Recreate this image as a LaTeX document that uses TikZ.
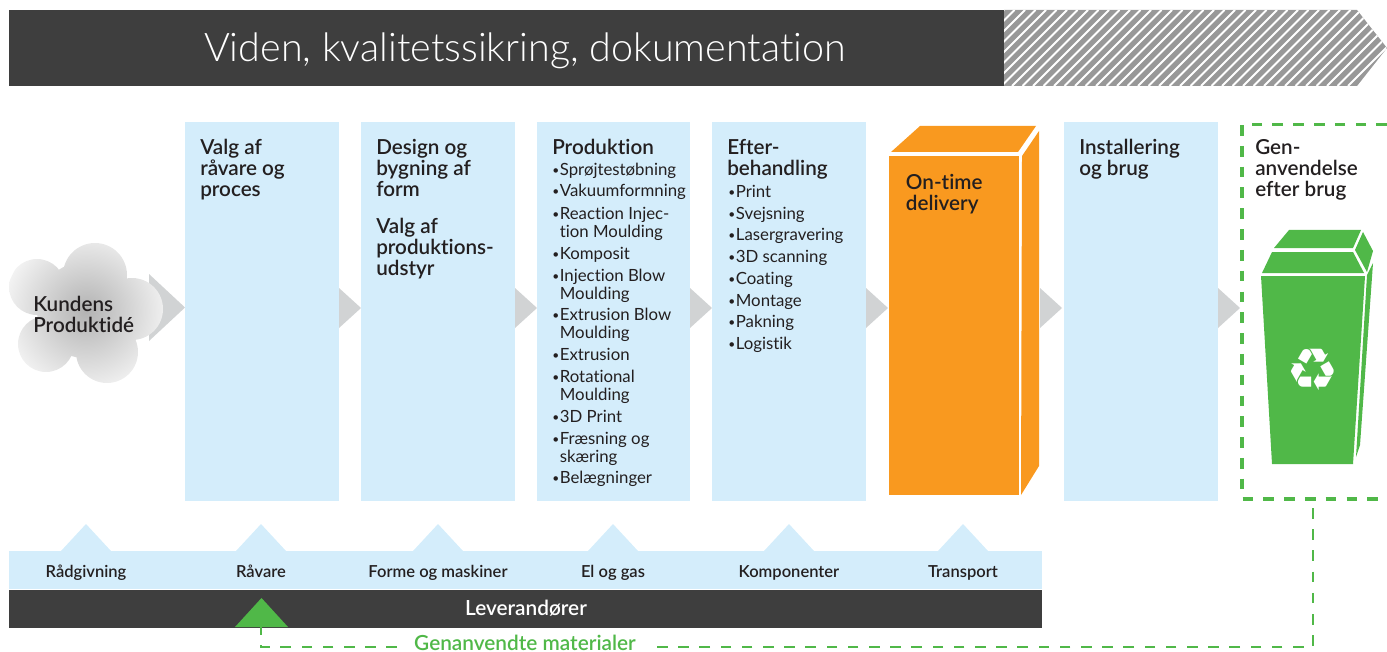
\documentclass[tikz,border=0pt]{standalone}
\usepackage{fontspec}
\defaultfontfeatures{Ligatures=NoCommon}
\setmainfont{Lato}
\newfontfamily\headfont{Lato Semibold}
\newfontfamily\titlefont{Lato Light}
\newfontfamily\symfont{DejaVu Sans}
\usetikzlibrary{positioning,calc}
\definecolor{colorDark}{HTML}{3E3E3E}
\definecolor{colorPale}{HTML}{D4EDFB}
\definecolor{colorOrange}{HTML}{F9991F}
\definecolor{colorGreen}{HTML}{50B848}
\definecolor{colorChev}{HTML}{D1D3D4}
\definecolor{colorHatch}{HTML}{989898}
\definecolor{colorInk}{HTML}{231F20}
\tikzset{
   column/.style={fill=colorPale,minimum width=115.5pt,minimum height=284.25pt,inner sep=0pt,anchor=north west},
   headtxt/.style={font=\headfont\fontsize{15.5}{15.75}\selectfont,text=colorInk,align=left,inner sep=0pt,anchor=north west},
   listtxt/.style={font=\fontsize{12.6}{13.5}\selectfont,text=colorInk,inner sep=0pt,anchor=north west},
   chev/.style={fill=colorChev},
   peak/.style={fill=colorPale},
   supply/.style={font=\headfont\fontsize{12.4}{13}\selectfont,text=colorInk,inner sep=0pt,anchor=base},
   genline/.style={draw=colorGreen,line width=2.3pt,dash pattern=on 8pt off 7.6pt},
   backline/.style={draw=colorGreen,line width=2.2pt,dash pattern=on 8pt off 7.9pt},
   cubeside/.style={fill=colorOrange},
   binpart/.style={fill=colorGreen},
}
\newcommand{\pitem}[1]{\strut\makebox[5.7pt][l]{\raisebox{0.4pt}{\fontsize{9}{9}\selectfont\textbullet}}\parbox[t]{98pt}{#1}}
\begin{document}
\begin{tikzpicture}[x=0.75pt,y=-0.75pt]
  \useasboundingbox (0,0) rectangle (1387,652);

  % top band
  \fill[colorHatch] (1004,10) -- (1357,10) -- (1387,48) -- (1357,86) -- (1004,86) -- cycle;
  \begin{scope}
    \clip (1004,10) -- (1357,10) -- (1387,48) -- (1357,86) -- (1004,86) -- cycle;
    \foreach \i in {0,...,45}
      \draw[white,line width=1.5pt] (1004+\i*10.5-76,86) -- (1004+\i*10.5,10);
  \end{scope}
  \node (band) at (9,10) [fill=colorDark,minimum width=746.25pt,minimum height=57pt,inner sep=0pt,anchor=north west] {};
  \node (bandtxt) at (525,51) [font=\titlefont\fontsize{29.6}{30}\selectfont,text=white,inner sep=0pt] {Viden, kvalitetssikring, dokumentation};

  % arrows between the columns
  \fill[chev] (149,274) -- (185,307.5) -- (149,341) -- cycle;
  \foreach \x in {339,515,690,866,1040,1218}
    \fill[chev] (\x,288) -- (\x+22,308) -- (\x,328) -- cycle;

  % cloud
  \begin{scope}
    \clip (95,275) circle (32) (37,287) circle (28) (132,309) circle (31) (46,344) circle (28)
      (107,352) circle (31) (85,310) circle (48);
    \shade[inner color=black!30,outer color=black!5] (86,311) circle (82);
  \end{scope}
  \node (idea) at (33,296) [headtxt] {Kundens\\Produktidé};

  % columns
  \node (raavare) at (185,122) [column] {};
  \node (raavaretxt) [headtxt,below right=12.5pt and 11.25pt of raavare.north west,anchor=north west] {Valg af\\råvare og\\proces};
  \node (form) at (361,122) [column] {};
  \node (formtxt) [headtxt,below right=12.5pt and 11.25pt of form.north west,anchor=north west] {Design og\\bygning af\\form};
  \node (udstyrtxt) [headtxt,below=16pt of formtxt.south west,anchor=north west] {Valg af\\produktions-\\udstyr};
  \node (prod) at (537,122) [column,minimum width=114.75pt] {};
  \node (prodtxt) [headtxt,below right=12.5pt and 11.25pt of prod.north west,anchor=north west] {Produktion};
  \foreach \y/\t [count=\n] in {169/Sprøjtestøbning,190/Vakuumformning,213/{Reaction Injec-\\tion Moulding},
      253/Komposit,275/{Injection Blow\\Moulding},314/{Extrusion Blow\\Moulding},354/Extrusion,
      376/{Rotational\\Moulding},416/3D Print,438/{Fræsning og\\skæring},477/Belægninger}
    \node (prod\n) at (552,\y-6.6) [listtxt] {\pitem{\t}};
  \node (efter) at (712,122) [column] {};
  \node (eftertxt) [headtxt,below right=12.5pt and 11.25pt of efter.north west,anchor=north west] {Efter-\\behandling};
  \foreach \y/\t [count=\n] in {191/Print,213/Svejsning,234/Lasergravering,256/3D scanning,
      278/Coating,300/Montage,321/Pakning,343/Logistik}
    \node (efter\n) at (728,\y-6.6) [listtxt] {\pitem{\t}};
  \node (install) at (1064,122) [column] {};
  \node (installtxt) [headtxt,below right=12.5pt and 11.25pt of install.north west,anchor=north west] {Installering\\og brug};

  % delivery box
  \fill[cubeside] (891,152) -- (920,126) -- (1036,126) -- (1018,152) -- cycle;
  \fill[cubeside] (1022,156) -- (1039,131) -- (1039,466) -- (1021,495) -- cycle;
  \node (cube) at (889,156) [column,fill=colorOrange,minimum width=97pt,minimum height=254.25pt] {};
  \node (cubetxt) [headtxt,below right=13.3pt and 12.5pt of cube.north west,anchor=north west] {On-time\\delivery};

  % recycling
  \coordinate (gentr) at (1387,124.5);
  \coordinate (gentl) at (1242,124.5);
  \coordinate (genbl) at (1242,499);
  \coordinate (genbr) at (1387,499);
  \coordinate (genout) at (1313,508);
  \coordinate (greentip) at (261,627);
  \coordinate (backright) at (652,647);
  \coordinate (backleft) at (397,647);
  \draw[genline] (gentr) -- (gentl) -- (genbl) -- (genbr);
  \node (gentxt) at (1255,139) [headtxt] {Gen-\\anvendelse\\efter brug};
  \fill[binpart] (1274,248) -- (1289,230) -- (1361,230) -- (1353,248) -- cycle;
  \fill[binpart] (1262,273) -- (1272,252) -- (1353,252) -- (1364,273) -- cycle;
  \fill[binpart] (1363,232) -- (1373,251) -- (1367,272) -- (1355,250) -- cycle;
  \fill[binpart] (1261,276) -- (1365,276) -- (1353,464) -- (1272,464) -- cycle;
  \fill[binpart] (1373,263) -- (1367,275) -- (1356,457) -- (1360,445) -- cycle;
  \node (recycle) at (1313,370) [font=\symfont\fontsize{44}{44}\selectfont,text=white,inner sep=0pt] {♻};

  % suppliers
  \foreach \x in {86,261,438,613,789,963}
    \fill[peak] (\x-25,551) -- (\x,524) -- (\x+25,551) -- cycle;
  \node (supplybar) at (9,551) [fill=colorPale,minimum width=774.75pt,minimum height=28.5pt,inner sep=0pt,anchor=north west] {};
  \node (levbar) [below=0pt of supplybar,fill=colorDark,minimum width=774.75pt,minimum height=28.5pt,inner sep=0pt] {};
  \node (levtxt) at (526,615) [font=\headfont\fontsize{15.6}{16}\selectfont,text=white,inner sep=0pt,anchor=base] {Leverandører};
  \node (raad) at (86,577) [supply] {Rådgivning};
  \node (raav) at (261,577) [supply] {Råvare};
  \node (forme) at (438,577) [supply] {Forme og maskiner};
  \node (elgas) at (613,577) [supply] {El og gas};
  \node (komp) at (789,577) [supply] {Komponenter};
  \node (trans) at (963,577) [supply] {Transport};
  \fill[colorGreen] (235,627) -- (261.5,598) -- (288,627) -- cycle;

  % way back
  \node (backtxt) at (525,650.5) [font=\headfont\fontsize{15.6}{16}\selectfont,text=colorGreen,inner sep=0pt,anchor=base] {Genanvendte materialer};
  \draw[backline] (genout) |- (backright);
  \draw[backline] (backleft) -| (greentip);
\end{tikzpicture}
\end{document}
